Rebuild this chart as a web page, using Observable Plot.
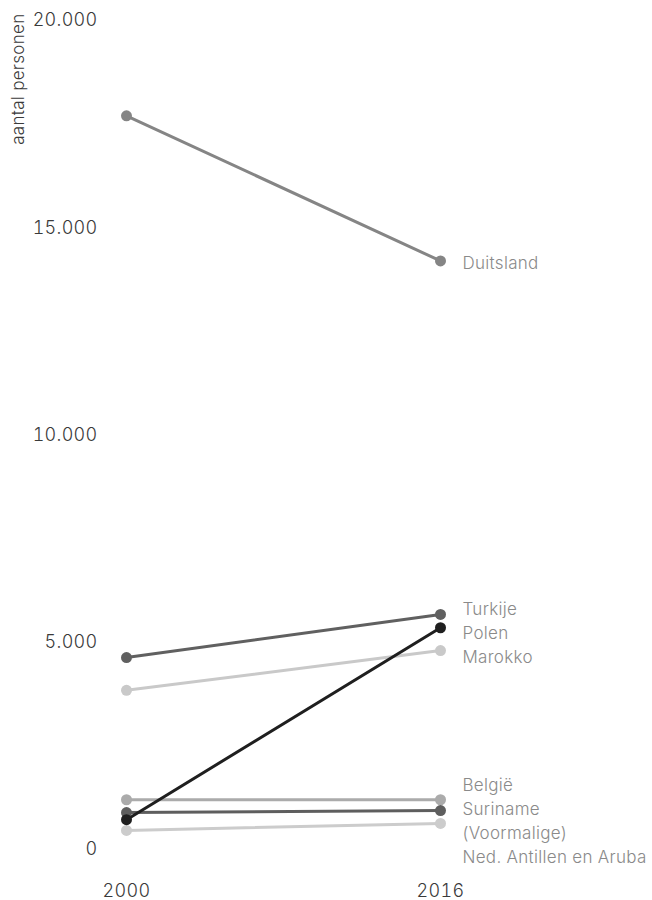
<!DOCTYPE html>
<html>
<head>
<meta charset="utf-8">
<script src="https://cdn.jsdelivr.net/npm/d3@7"></script>
<script src="https://cdn.jsdelivr.net/npm/@observablehq/plot@0.6"></script>
<style>
  html, body { margin: 0; padding: 0; background: #fff; }
  #chart svg { display: block; }
</style>
</head>
<body>
<div id="chart"></div>
<script>
const years = [2000, 2016];
const countries = ["Duitsland", "Turkije", "Marokko", "België", "Suriname", "(Voormalige)\nNed. Antillen en Aruba", "Polen"];
const values2000 = [17700, 4630, 3840, 1200, 890, 460, 720];
const values2016 = [14200, 5670, 4800, 1200, 940, 630, 5350];
const colors = ["#858585", "#606060", "#c9c9c9", "#ababab", "#5e5e5e", "#cccccc", "#1f1f1f"];
const yTicks = [0, 5000, 10000, 15000, 20000];
const yLabel = "aantal personen";

const W = 652, H = 900, MT = 20, MB = 51, ML = 126, MR = 212;
const LINE = 24;

const nl = d3.formatLocale({decimal: ",", thousands: ".", grouping: [3], currency: ["€", ""]});
const fmt = nl.format(",d");

const rows = [];
countries.forEach((c, i) => {
  rows.push({country: c, year: years[0], value: values2000[i], color: colors[i]});
  rows.push({country: c, year: years[1], value: values2016[i], color: colors[i]});
});

// label dodging in pixel space
const yPx = d3.scaleLinear().domain([0, 20000]).range([H - MB, MT]);
let labels = countries.map((c, i) => {
  const lines = c.split("\n").length;
  return {text: c, h: lines * LINE, target: yPx(values2016[i])};
}).sort((a, b) => a.target - b.target);
let blocks = labels.map(l => ({items: [l]}));
function place(b) {
  let off = 0; const rel = [];
  b.items.forEach(it => { rel.push(off + it.h / 2); off += it.h; });
  b.height = off;
  b.top = d3.mean(b.items, it => it.target) - d3.mean(rel);
  b.items.forEach((it, k) => it.pos = b.top + rel[k]);
}
blocks.forEach(place);
let merged = true;
while (merged) {
  merged = false;
  for (let k = 0; k < blocks.length - 1; k++) {
    const a = blocks[k], b = blocks[k + 1];
    if (a.top + a.height > b.top) {
      a.items = a.items.concat(b.items);
      blocks.splice(k + 1, 1);
      place(a);
      merged = true;
      break;
    }
  }
}
const labelRows = labels.map(l => ({text: l.text, year: years[1], y: yPx.invert(l.pos)}));

const chart = Plot.plot({
  width: W,
  height: H,
  marginTop: MT,
  marginBottom: MB,
  marginLeft: ML,
  marginRight: MR,
  style: {fontFamily: "Inter, 'Noto Sans', sans-serif", fontSize: "18px", fontWeight: 300, color: "#333", background: "#fff"},
  x: {domain: years, type: "linear"},
  y: {domain: [0, 20000]},
  color: {type: "identity"},
  marks: [
    Plot.axisY({ticks: yTicks, tickFormat: fmt, tickSize: 0, tickPadding: 29, label: null, fontSize: 18, fill: "#3a3a3a"}),
    Plot.axisX({ticks: years, tickFormat: d => String(d), tickSize: 0, tickPadding: 35, label: null, fontSize: 18, fill: "#3a3a3a"}),
    Plot.line(rows, {x: "year", y: "value", z: "country", stroke: "color", strokeWidth: 3}),
    Plot.dot(rows, {x: "year", y: "value", fill: "color", r: 5.5}),
    Plot.text(labelRows, {x: "year", y: "y", text: "text", dx: 22, textAnchor: "start", fill: "#8a8a8a", fontSize: 17, fontWeight: 300, lineHeight: 24 / 17}),
    Plot.text([yLabel], {frameAnchor: "top-left", text: d => d, rotate: -90, textAnchor: "end", dx: -115, dy: -7, fill: "#3a3a3a", fontSize: 17, fontWeight: 300})
  ]
});
chart.querySelectorAll("text").forEach(t => t.style.letterSpacing = "0.3px");
document.getElementById("chart").appendChild(chart);
</script>
</body>
</html>
